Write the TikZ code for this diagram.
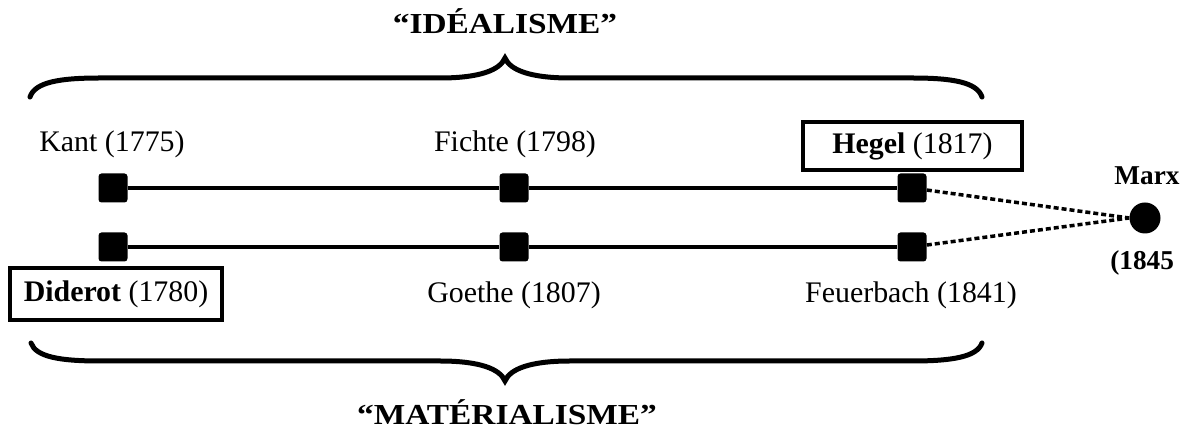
\documentclass[tikz,border=0pt]{standalone}
\usepackage{fontspec}
\setmainfont{Liberation Serif}
\newfontfamily\titlefont[FakeStretch=1.15]{Liberation Serif}
\usepackage{tikz}
\usetikzlibrary{positioning}

\tikzset{
  stage/.style={rectangle, fill=black, rounded corners=0.06cm, minimum size=0.58cm, inner sep=0pt},
  lbl/.style={font=\fontsize{17}{20}\selectfont, anchor=base, inner sep=0pt},
  lblbox/.style={draw, line width=0.075cm, font=\fontsize{17}{20}\selectfont, inner sep=0pt},
  timeline/.style={line width=0.08cm},
  brace/.style={line width=0.1cm, line cap=round},
  link/.style={line width=0.07cm, dash pattern=on 0.1cm off 0.06cm},
  heading/.style={font=\titlefont\bfseries\fontsize{16.5}{20}\selectfont, anchor=base, inner sep=0pt},
  marxlbl/.style={font=\bfseries\fontsize{15.5}{19}\selectfont, inner sep=0pt}
}

\begin{document}
\begin{tikzpicture}
    \useasboundingbox (0,0) rectangle (23.8,8.92);
    % the two rows
    \node[stage] (kant) at (2.26,5.16) {};
    \node[stage] (fichte) at (10.28,5.16) {};
    \node[stage] (hegel) at (18.24,5.16) {};
    \node[stage] (diderot) at (2.26,3.98) {};
    \node[stage] (goethe) at (10.28,3.98) {};
    \node[stage] (feuerbach) at (18.24,3.98) {};
    \draw[timeline] (kant) -- (fichte) -- (hegel);
    \draw[timeline] (diderot) -- (goethe) -- (feuerbach);

    % names
    \node[lbl] (kanttxt) at (2.24,5.88) {Kant (1775)};
    \node[lbl] (fichtetxt) at (10.3,5.88) {Fichte (1798)};
    \node[lblbox, minimum width=4.38cm, minimum height=0.96cm] (hegeltxt) at (18.25,6.0) {\textbf{Hegel} (1817)};
    \node[lblbox, minimum width=4.24cm, minimum height=1.04cm] (diderottxt) at (2.32,3.04) {\textbf{Diderot} (1780)};
    \node[lbl] (goethetxt) at (10.28,2.86) {Goethe (1807)};
    \node[lbl] (feuerbachtxt) at (18.22,2.86) {Feuerbach (1841)};

    % Marx
    \node[circle, fill=black, minimum size=0.62cm, inner sep=0pt] (marx) at (22.9,4.56) {};
    \node[marxlbl, anchor=base] (marxtxt) at (22.94,5.22) {Marx};
    \node[marxlbl, anchor=base west] (marxyear) at (22.2,3.52) {(1845};
    \draw[link] (hegel) -- (marx.west);
    \draw[link] (feuerbach) -- (marx.west);

    % braces
    \draw[brace] (0.6,6.98) .. controls (0.7,7.28) and (1.2,7.36) .. (2.0,7.36) -- (8.8,7.36)
        .. controls (9.6,7.36) and (10.0,7.52) .. (10.1,7.76)
        .. controls (10.2,7.52) and (10.6,7.36) .. (11.4,7.36) -- (18.24,7.36)
        .. controls (19.04,7.36) and (19.54,7.28) .. (19.64,6.98);
    \draw[brace] (0.62,2.06) .. controls (0.72,1.78) and (1.2,1.70) .. (2.0,1.70) -- (8.8,1.70)
        .. controls (9.6,1.70) and (10.0,1.54) .. (10.1,1.30)
        .. controls (10.2,1.54) and (10.6,1.70) .. (11.4,1.70) -- (18.24,1.70)
        .. controls (19.04,1.70) and (19.54,1.78) .. (19.64,2.06);
    \node[heading] (ideal) at (10.1,8.24) {“IDÉALISME”};
    \node[heading] (mater) at (10.14,0.42) {“MATÉRIALISME”};
\end{tikzpicture}
\end{document}
